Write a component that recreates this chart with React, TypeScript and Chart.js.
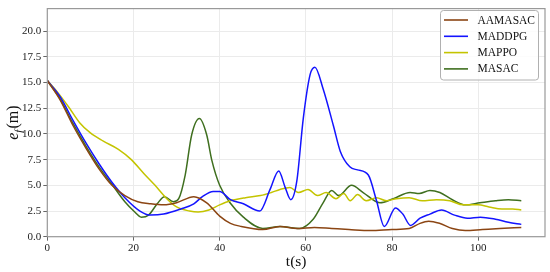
import React, { useEffect, useRef } from 'react';
import { Chart, registerables } from 'chart.js';

Chart.register(...registerables);

const seriesNames = ['AAMASAC', 'MADDPG', 'MAPPO', 'MASAC'];
const seriesColors = ['#8b4513', '#1414ff', '#c4c400', '#3f6f1f'];

const aamasacT = [0, 3, 6, 9, 12, 15, 18, 21, 24, 27, 30, 34, 37, 40, 42.5, 45, 50, 54, 58, 62, 66, 70, 75, 80, 84, 86.5, 88.5, 91, 94, 97, 101, 105, 110];
const aamasacV = [15.2, 13.3, 10.8, 8.6, 6.6, 5.0, 4.0, 3.4, 3.2, 3.1, 3.3, 3.9, 3.3, 2.0, 1.3, 1.0, 0.7, 1.0, 0.8, 0.9, 0.8, 0.7, 0.6, 0.7, 0.8, 1.3, 1.5, 1.3, 0.8, 0.6, 0.7, 0.8, 0.9];

const maddpgT = [0, 3, 6, 9, 12, 15, 18, 21.5, 24, 27, 31, 34, 36, 38.5, 40, 42.5, 45.5, 49.3, 51.7, 53.7, 55.2, 56.5, 57.9, 59.4, 61, 62.1, 64, 66.4, 68, 70.2, 72, 74.5, 76.4, 78.2, 80.8, 82.5, 84.3, 86.5, 88.8, 91.5, 94.5, 97.5, 100.5, 104, 107, 110];
const maddpgV = [15.2, 13.6, 11.3, 9.1, 7.1, 5.3, 3.8, 2.5, 2.1, 2.2, 2.7, 3.2, 3.9, 4.4, 4.4, 3.6, 3.2, 2.5, 4.6, 6.4, 4.8, 3.6, 5.4, 11.5, 15.8, 16.5, 14.4, 10.8, 8.3, 6.8, 6.5, 6.0, 3.5, 1.0, 2.8, 2.2, 1.1, 1.8, 2.2, 2.6, 2.1, 1.8, 1.9, 1.7, 1.4, 1.2];

const mappoT = [0, 2.5, 5, 7.5, 10, 13, 16.5, 19.5, 22.5, 25, 27.5, 30, 33, 35, 37.5, 40, 42.5, 46, 49.5, 52, 54, 56.3, 58.3, 60.5, 62.7, 64.7, 67, 68.8, 70.3, 72, 74, 76.4, 78.7, 81, 84, 87, 90.3, 93.4, 96.5, 100, 102.5, 105.5, 108, 110];
const mappoV = [15.2, 14.0, 12.6, 11.1, 10.1, 9.3, 8.5, 7.5, 6.1, 5.0, 3.8, 2.9, 2.5, 2.4, 2.6, 3.1, 3.5, 3.8, 4.0, 4.3, 4.6, 4.8, 4.3, 4.6, 4.0, 4.3, 3.7, 4.2, 3.5, 4.1, 3.5, 3.8, 3.5, 3.7, 3.8, 3.5, 3.6, 3.5, 3.1, 3.1, 2.9, 2.7, 2.7, 2.6];

const masacT = [0, 3, 6, 9, 12, 15, 18, 20.3, 21.8, 23.5, 25.5, 27.2, 29.3, 30.5, 32, 33.5, 35.3, 37, 38.2, 40, 42.4, 45.5, 50, 54, 58.5, 61.7, 64, 66, 67.6, 70.6, 73.3, 77.2, 80.3, 84.2, 86.3, 88.8, 91.1, 94, 97, 100.4, 104, 107, 110];
const masacV = [15.2, 13.4, 11.0, 8.8, 6.8, 5.1, 3.4, 2.4, 1.9, 2.1, 3.2, 3.9, 3.4, 3.7, 6.0, 9.9, 11.5, 9.9, 7.4, 5.0, 3.3, 1.9, 0.8, 1.0, 0.8, 1.7, 3.3, 4.5, 4.0, 5.0, 4.3, 3.3, 3.7, 4.3, 4.2, 4.5, 4.3, 3.6, 3.1, 3.3, 3.5, 3.6, 3.5];

const xMin = 0;
const xMax = 115.5;
const xStep = 20;
const yMin = 0;
const yMax = 22.2;
const yStep = 2.5;

const xTitle = 't(s)';
const yTitleMain = 'e';
const yTitleSub = 'f';
const yTitleUnit = '(m)';

const FONT = '"Liberation Serif", "Times New Roman", serif';

function pts(t: number[], v: number[]) {
  return t.map((x, i) => ({ x, y: v[i] }));
}

const framePlugin = {
  id: 'framePlugin',
  afterDraw(chart: any) {
    const { ctx, chartArea } = chart;
    const { left, top, right, bottom } = chartArea;
    ctx.save();
    // frame
    ctx.strokeStyle = '#999999';
    ctx.lineWidth = 1.2;
    ctx.strokeRect(left, top, right - left, bottom - top);

    // y axis title with subscript
    const cx = 13;
    const cy = (top + bottom) / 2;
    ctx.translate(cx, cy);
    ctx.rotate(-Math.PI / 2);
    ctx.fillStyle = '#111';
    ctx.textBaseline = 'alphabetic';
    const mainFont = `italic 16px ${FONT}`;
    const subFont = `italic 11px ${FONT}`;
    const unitFont = `16px ${FONT}`;
    ctx.font = mainFont;
    const w1 = ctx.measureText(yTitleMain).width;
    ctx.font = subFont;
    const w2 = ctx.measureText(yTitleSub).width;
    ctx.font = unitFont;
    const w3 = ctx.measureText(yTitleUnit).width;
    const total = w1 + w2 + 1 + w3;
    let x = -total / 2;
    const base = 5;
    ctx.font = mainFont;
    ctx.fillText(yTitleMain, x, base);
    x += w1;
    ctx.font = subFont;
    ctx.fillText(yTitleSub, x, base + 3.5);
    x += w2 + 1;
    ctx.font = unitFont;
    ctx.fillText(yTitleUnit, x, base);
    ctx.restore();

    // legend
    ctx.save();
    const bx = 440.5, by = 10.5, bw = 98, bh = 69.5;
    const r = 3;
    ctx.beginPath();
    ctx.moveTo(bx + r, by);
    ctx.lineTo(bx + bw - r, by);
    ctx.quadraticCurveTo(bx + bw, by, bx + bw, by + r);
    ctx.lineTo(bx + bw, by + bh - r);
    ctx.quadraticCurveTo(bx + bw, by + bh, bx + bw - r, by + bh);
    ctx.lineTo(bx + r, by + bh);
    ctx.quadraticCurveTo(bx, by + bh, bx, by + bh - r);
    ctx.lineTo(bx, by + r);
    ctx.quadraticCurveTo(bx, by, bx + r, by);
    ctx.closePath();
    ctx.fillStyle = 'rgba(255,255,255,0.85)';
    ctx.fill();
    ctx.strokeStyle = '#b0b0b0';
    ctx.lineWidth = 1;
    ctx.stroke();
    chart.data.datasets.forEach((ds: any, i: number) => {
      const yy = 20 + i * 16.3;
      ctx.strokeStyle = ds.borderColor;
      ctx.lineWidth = 1.6;
      ctx.beginPath();
      ctx.moveTo(444, yy);
      ctx.lineTo(468, yy);
      ctx.stroke();
      ctx.fillStyle = '#111';
      ctx.font = `11.5px ${FONT}`;
      ctx.textBaseline = 'middle';
      ctx.fillText(ds.label, 477.5, yy + 0.5);
    });
    ctx.restore();
  },
};

export default function App() {
  const ref = useRef<HTMLCanvasElement>(null);
  useEffect(() => {
    document.body.style.margin = '0';
    const canvas = ref.current!;
    const series = [
      pts(aamasacT, aamasacV),
      pts(maddpgT, maddpgV),
      pts(mappoT, mappoV),
      pts(masacT, masacV),
    ];
    const chart = new Chart(canvas, {
      type: 'line',
      data: {
        datasets: series.map((d, i) => ({
          label: seriesNames[i],
          data: d,
          borderColor: seriesColors[i],
          backgroundColor: seriesColors[i],
          borderWidth: 1.5,
          pointRadius: 0,
          fill: false,
          cubicInterpolationMode: 'monotone' as const,
        })),
      },
      options: {
        responsive: false,
        animation: false,
        layout: { padding: { top: 5, right: 5, left: 0, bottom: 0 } },
        plugins: {
          legend: { display: false },
          tooltip: { enabled: false },
        },
        scales: {
          x: {
            type: 'linear',
            min: xMin,
            max: xMax,
            afterFit: (s: any) => { s.height = 35.3; },
            ticks: {
              stepSize: xStep,
              includeBounds: false,
              padding: 1,
              color: '#222',
              font: { family: FONT, size: 11 },
              maxRotation: 0,
              callback: (v: any) => String(v),
            },
            grid: { color: '#ebebeb', tickColor: '#666', tickLength: 4, lineWidth: 1 },
            border: { display: false },
            title: {
              display: true,
              text: xTitle,
              color: '#111',
              font: { family: FONT, size: 15.5 },
              padding: { top: 0, bottom: 1 },
            },
          },
          y: {
            type: 'linear',
            min: yMin,
            max: yMax,
            afterFit: (s: any) => { s.width = 47.3; },
            ticks: {
              stepSize: yStep,
              includeBounds: false,
              padding: 2,
              color: '#222',
              font: { family: FONT, size: 11 },
              callback: (v: any) => Number(v).toFixed(1),
            },
            grid: { color: '#ebebeb', tickColor: '#666', tickLength: 4, lineWidth: 1 },
            border: { display: false },
          },
        },
      },
      plugins: [framePlugin],
    });
    return () => chart.destroy();
  }, []);
  return (
    <div style={{ width: 550, height: 272 }}>
      <canvas ref={ref} width={550} height={272} style={{ display: 'block' }} />
    </div>
  );
}
